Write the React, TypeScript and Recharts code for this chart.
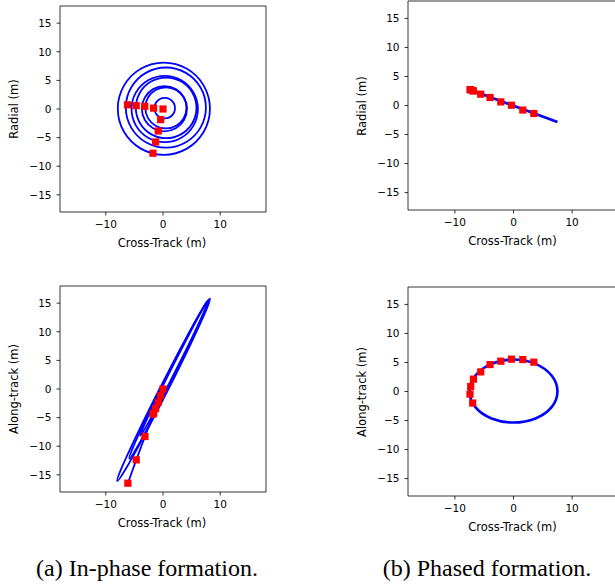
import React from "react";
import { ReferenceArea, Scatter, ScatterChart, XAxis, YAxis } from "recharts";

// ---- data (metres) ----

// (a) in-phase: cross-track / radial loops
const IP_RAD_LOOP_1 = [[2.1, 0.15], [1.87, 1.05], [1.2, 1.72], [0.3, 1.95], [-0.6, 1.72], [-1.27, 1.05], [-1.5, 0.15], [-1.27, -0.75], [-0.6, -1.42], [0.3, -1.65], [1.2, -1.42], [1.87, -0.75], [2.1, 0.15]];
const IP_RAD_LOOP_2 = [[4.2, 0.05], [3.67, 2.03], [2.23, 3.47], [0.25, 4.0], [-1.73, 3.47], [-3.17, 2.03], [-3.7, 0.05], [-3.17, -1.93], [-1.73, -3.37], [0.25, -3.9], [2.23, -3.37], [3.67, -1.93], [4.2, 0.05]];
const IP_RAD_LOOP_3 = [[4.1, 0.2], [3.62, 2.0], [2.3, 3.32], [0.5, 3.8], [-1.3, 3.32], [-2.62, 2.0], [-3.1, 0.2], [-2.62, -1.6], [-1.3, -2.92], [0.5, -3.4], [2.3, -2.92], [3.62, -1.6], [4.1, 0.2]];
const IP_RAD_LOOP_4 = [[6.1, 0], [5.32, 2.9], [3.2, 5.02], [0.3, 5.8], [-2.6, 5.02], [-4.72, 2.9], [-5.5, 0], [-4.72, -2.9], [-2.6, -5.02], [0.3, -5.8], [3.2, -5.02], [5.32, -2.9], [6.1, 0]];
const IP_RAD_LOOP_5 = [[5.85, 0.2], [5.14, 2.85], [3.2, 4.79], [0.55, 5.5], [-2.1, 4.79], [-4.04, 2.85], [-4.75, 0.2], [-4.04, -2.45], [-2.1, -4.39], [0.55, -5.1], [3.2, -4.39], [5.14, -2.45], [5.85, 0.2]];
const IP_RAD_LOOP_6 = [[8.2, 0.05], [7.12, 4.08], [4.18, 7.02], [0.15, 8.1], [-3.88, 7.02], [-6.82, 4.08], [-7.9, 0.05], [-6.82, -3.98], [-3.88, -6.92], [0.15, -8.0], [4.18, -6.92], [7.12, -3.98], [8.2, 0.05]];
const IP_RAD_LOOP_7 = [[7.5, 0.25], [6.56, 3.75], [4.0, 6.31], [0.5, 7.25], [-3.0, 6.31], [-5.56, 3.75], [-6.5, 0.25], [-5.56, -3.25], [-3.0, -5.81], [0.5, -6.75], [4.0, -5.81], [6.56, -3.25], [7.5, 0.25]];
const IP_RAD_MARKERS = [[0, 0], [-0.41, -1.86], [-0.82, -3.84], [-1.29, -5.76], [-1.75, -7.73], [-1.64, 0.15], [-3.19, 0.47], [-4.68, 0.58], [-6.2, 0.73]];

// (a) in-phase: cross-track / along-track
const IP_ALG_LOOP_1 = [[8.2, 15.8], [7.43, 13.5], [4.69, 7.55], [0.72, -0.47], [-3.41, -8.4], [-6.6, -14.12], [-8.0, -16.1], [-7.23, -13.8], [-4.49, -7.85], [-0.52, 0.17], [3.61, 8.1], [6.8, 13.82], [8.2, 15.8]];
const IP_ALG_LOOP_2 = [[8.0, 15.6], [7.34, 13.61], [4.99, 8.42], [1.59, 1.43], [-1.96, -5.48], [-4.7, -10.47], [-5.9, -12.2], [-5.24, -10.21], [-2.89, -5.02], [0.51, 1.97], [4.06, 8.88], [6.8, 13.87], [8.0, 15.6]];
const IP_ALG_LOOP_3 = [[7.9, 15.4], [7.28, 13.73], [5.24, 9.34], [2.31, 3.42], [-0.72, -2.46], [-3.02, -6.71], [-4.0, -8.2], [-3.38, -6.53], [-1.34, -2.14], [1.59, 3.78], [4.62, 9.66], [6.92, 13.91], [7.9, 15.4]];
const IP_ALG_TRAIL = [[-6.14, -16.46], [-4.67, -12.38], [-3.16, -8.3], [-1.63, -4.2], [0, 0]];
const IP_ALG_MARKERS = [[0, 0], [-0.41, -1.17], [-0.82, -2.3], [-1.29, -3.4], [-1.75, -4.4], [-1.63, -4.2], [-3.16, -8.3], [-4.67, -12.38], [-6.14, -16.46]];

// (b) phased
const PH_CROSS = [-6.96, -7.42, -7.3, -6.84, -5.59, -4.0, -2.17, -0.34, 1.59, 3.47];
const PH_RADIAL = [2.55, 2.75, 2.7, 2.5, 1.95, 1.38, 0.62, 0.05, -0.78, -1.38];
const PH_ALONG = [-1.99, -0.45, 0.86, 2.13, 3.38, 4.64, 5.22, 5.57, 5.5, 5.05];
const PH_RAD_PATH = [[-7.5, 2.75], [0, -0.05], [7.5, -2.84]];
const PH_ALG_PATH = [[7.5, 0], [6.5, 2.75], [3.75, 4.76], [0, 5.5], [-3.75, 4.76], [-6.5, 2.75], [-7.5, 0], [-6.5, -2.7], [-3.75, -4.65], [0, -5.35], [3.75, -4.65], [6.5, -2.7], [7.5, 0]];

const X_TICKS = [-10, 0, 10];
const Y_TICKS = [-15, -10, -5, 0, 5, 10, 15];
const DOMAIN: [number, number] = [-18, 18];

const pts = (a: number[][]) => a.map(([x, y]) => ({ x, y }));
const zip = (xs: number[], ys: number[]) => xs.map((x, i) => ({ x, y: ys[i] }));

const TICK = { fill: "#000", fontSize: 10.5, fontFamily: "DejaVu Sans" };
const LABEL_FONT = { fontSize: 11.5, fontFamily: "DejaVu Sans", color: "#000" };
const BLUE = "#0000ff";
const fmt = (v: number) => (v < 0 ? `\u2212${-v}` : `${v}`);

// smooth curve through the points; a path whose last point repeats the first is closed
// without a seam (the built-in "natural" curve leaves a kink there)
function smoothCurve(context: any) {
  let p: number[][] = [];
  return {
    areaStart() {},
    areaEnd() {},
    lineStart() {
      p = [];
    },
    point(x: number, y: number) {
      p.push([+x, +y]);
    },
    lineEnd() {
      const n = p.length;
      if (!n) return;
      const closed =
        n > 3 && Math.abs(p[0][0] - p[n - 1][0]) < 1e-6 && Math.abs(p[0][1] - p[n - 1][1]) < 1e-6;
      const ring = closed ? p.slice(0, n - 1) : p;
      const m = ring.length;
      const at = (i: number) => (closed ? ring[(i + m) % m] : ring[Math.max(0, Math.min(m - 1, i))]);
      context.moveTo(ring[0][0], ring[0][1]);
      const segs = closed ? m : m - 1;
      for (let i = 0; i < segs; i++) {
        const a = at(i - 1), b = at(i), c = at(i + 1), d = at(i + 2);
        context.bezierCurveTo(
          b[0] + (c[0] - a[0]) / 6,
          b[1] + (c[1] - a[1]) / 6,
          c[0] - (d[0] - b[0]) / 6,
          c[1] - (d[1] - b[1]) / 6,
          c[0],
          c[1]
        );
      }
      if (closed) context.closePath();
    },
  };
}

const NoDot = () => <g />;
const Square = (p: any) => (
  <rect x={p.cx - 3.6} y={p.cy - 3.6} width={7.2} height={7.2} fill="#ff0000" />
);

type PanelProps = {
  left: number;
  top: number;
  width: number;
  height: number;
  margin: { top: number; right: number; left: number; bottom: number };
  xAxisHeight: number;
  lines: { x: number; y: number }[][];
  markers: { x: number; y: number }[];
  lineWidth: number;
  yLabel: string;
};

const Y_AXIS_W = 60;

function Panel(p: PanelProps) {
  const plotLeft = p.left + p.margin.left + Y_AXIS_W;
  const plotW = p.width - p.margin.left - p.margin.right - Y_AXIS_W;
  const plotTop = p.top + p.margin.top;
  const plotBottom = p.top + p.height - p.xAxisHeight;
  const cx = plotLeft + plotW / 2 - 1;
  const cy = (plotTop + plotBottom) / 2;
  return (
    <>
      <div style={{ position: "absolute", left: p.left, top: p.top }}>
        <ScatterChart width={p.width} height={p.height} margin={p.margin}>
          <XAxis
            type="number"
            dataKey="x"
            domain={DOMAIN}
            allowDataOverflow
            ticks={X_TICKS}
            tickFormatter={fmt}
            tick={TICK}
            tickSize={3.5}
            tickMargin={5}
            axisLine={false}
            tickLine={{ stroke: "#000", strokeWidth: 0.8 }}
            height={p.xAxisHeight}
          />
          <YAxis
            type="number"
            dataKey="y"
            domain={DOMAIN}
            allowDataOverflow
            ticks={Y_TICKS}
            tickFormatter={fmt}
            tick={TICK}
            tickSize={3.5}
            tickMargin={5}
            axisLine={false}
            tickLine={{ stroke: "#000", strokeWidth: 0.8 }}
            width={Y_AXIS_W}
          />
          {p.lines.map((d, i) => (
            <Scatter
              key={i}
              data={d}
              fill={BLUE}
              shape={NoDot}
              line={{ stroke: BLUE, strokeWidth: p.lineWidth }}
              lineType="joint"
              lineJointType={smoothCurve as any}
              isAnimationActive={false}
            />
          ))}
          <Scatter data={p.markers} fill="#ff0000" shape={Square} isAnimationActive={false} />
          <ReferenceArea x1={-18} x2={18} y1={-18} y2={18} fill="none" stroke="#000" strokeWidth={0.8} />
        </ScatterChart>
      </div>
      <div
        style={{
          ...LABEL_FONT,
          position: "absolute",
          left: cx - 100,
          top: plotBottom + 30.5 - 7,
          width: 200,
          height: 14,
          lineHeight: "14px",
          textAlign: "center",
        }}
      >
        Cross-Track (m)
      </div>
      <div
        style={{
          ...LABEL_FONT,
          position: "absolute",
          left: plotLeft - 46 - 100,
          top: cy - 7,
          width: 200,
          height: 14,
          lineHeight: "14px",
          textAlign: "center",
          transform: "rotate(-90deg)",
        }}
      >
        {p.yLabel}
      </div>
    </>
  );
}

const CAPTION = {
  position: "absolute" as const,
  top: 556,
  width: 300,
  textAlign: "center" as const,
  fontFamily: "Liberation Serif",
  fontSize: 24,
  lineHeight: "24px",
  color: "#000",
};

export default function App() {
  return (
    <div
      style={{
        position: "absolute",
        left: 0,
        top: 0,
        width: 615,
        height: 584,
        overflow: "hidden",
        background: "#fff",
      }}
    >
      <Panel
        left={0}
        top={0}
        width={300}
        height={240}
        margin={{ top: 6, right: 34, left: 0, bottom: 0 }}
        xAxisHeight={28}
        lines={[IP_RAD_LOOP_1, IP_RAD_LOOP_2, IP_RAD_LOOP_3, IP_RAD_LOOP_4, IP_RAD_LOOP_5, IP_RAD_LOOP_6, IP_RAD_LOOP_7].map(pts)}
        markers={pts(IP_RAD_MARKERS)}
        lineWidth={1.8}
        yLabel="Radial (m)"
      />
      <Panel
        left={310}
        top={0}
        width={309}
        height={240}
        margin={{ top: 1, right: 0, left: 38, bottom: 0 }}
        xAxisHeight={30}
        lines={[pts(PH_RAD_PATH)]}
        markers={zip(PH_CROSS, PH_RADIAL)}
        lineWidth={2.8}
        yLabel="Radial (m)"
      />
      <Panel
        left={0}
        top={280}
        width={300}
        height={240}
        margin={{ top: 6, right: 34, left: 0, bottom: 0 }}
        xAxisHeight={28}
        lines={[IP_ALG_LOOP_1, IP_ALG_LOOP_2, IP_ALG_LOOP_3, IP_ALG_TRAIL].map(pts)}
        markers={pts(IP_ALG_MARKERS)}
        lineWidth={1.8}
        yLabel="Along-track (m)"
      />
      <Panel
        left={310}
        top={280}
        width={309}
        height={246}
        margin={{ top: 7, right: 0, left: 38, bottom: 0 }}
        xAxisHeight={30}
        lines={[pts(PH_ALG_PATH)]}
        markers={zip(PH_CROSS, PH_ALONG)}
        lineWidth={2.6}
        yLabel="Along-track (m)"
      />
      <div style={{ ...CAPTION, left: 147 - 150 }}>(a) In-phase formation.</div>
      <div style={{ ...CAPTION, left: 487 - 150 }}>(b) Phased formation.</div>
    </div>
  );
}
